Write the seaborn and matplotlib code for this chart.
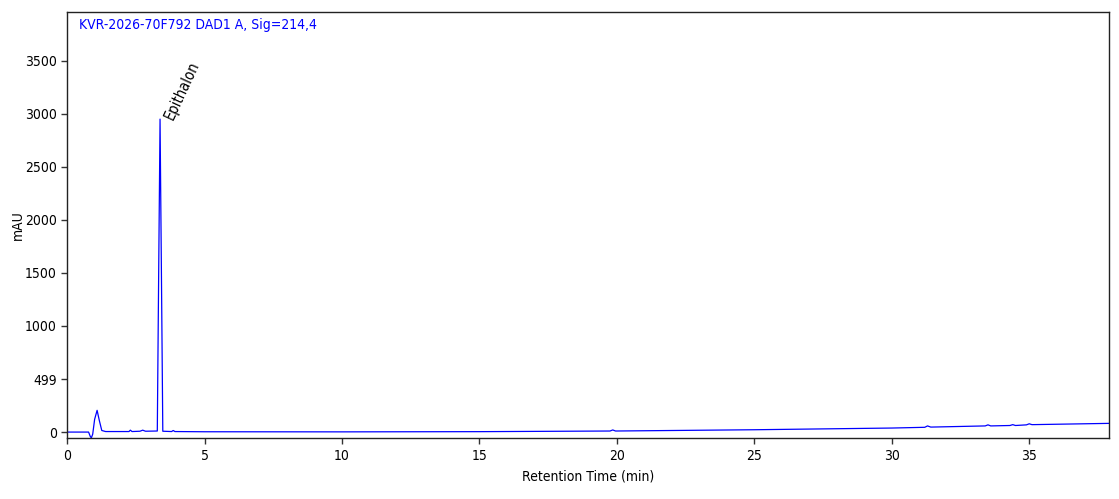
import matplotlib
matplotlib.use("Agg")
import matplotlib.pyplot as plt
import numpy as np
import pandas as pd
import seaborn as sns

# chromatogram (retention time in min, signal in mAU)
rt_min = [0.0, 0.78, 0.84, 0.88, 0.93, 1.0, 1.09, 1.17, 1.26, 1.4, 2.0, 2.25, 2.3, 2.36,
          2.65, 2.75, 2.85, 3.28, 3.33, 3.38, 3.43, 3.48, 3.8, 3.86, 3.92, 5.0, 10.0,
          15.0, 19.75, 19.85, 19.95, 25.0, 30.0, 31.2, 31.3, 31.42, 33.4, 33.5, 33.6,
          34.3, 34.4, 34.5, 34.9, 35.0, 35.1, 37.9]
signal_mau = [0, 0, -40, -55, -20, 120, 205, 110, 15, 5, 5, 5, 18, 5,
              8, 18, 8, 10, 1500, 2950, 1500, 8, 5, 15, 5, 3, 2,
              4, 10, 20, 10, 22, 38, 45, 58, 47, 58, 68, 58,
              62, 70, 62, 68, 78, 70, 82]

peak_name = "Epithalon"
peak_rt = 3.38
peak_height = 2950

title_text = "KVR-2026-70F792 DAD1 A, Sig=214,4"
x_ticks = [0, 5, 10, 15, 20, 25, 30, 35]
y_ticks = [0, 499, 1000, 1500, 2000, 2500, 3000, 3500]

df = pd.DataFrame({"rt": rt_min, "mau": signal_mau})

sns.set_style("white")
plt.rcParams["font.family"] = ["DejaVu Sans"]
plt.rcParams["font.stretch"] = "condensed"
plt.rcParams["text.color"] = "black"
plt.rcParams["axes.labelcolor"] = "black"
plt.rcParams["xtick.color"] = "black"
plt.rcParams["ytick.color"] = "black"

fig, ax = plt.subplots(figsize=(11.19, 4.99), dpi=100)
fig.subplots_adjust(left=0.06, right=0.991, top=0.976, bottom=0.122)

sns.lineplot(data=df, x="rt", y="mau", ax=ax, color="#0000ff", linewidth=0.9,
             estimator=None, sort=False)

ax.set_xlim(0, 37.9)
ax.set_ylim(-57, 3960)
ax.set_xticks(x_ticks)
ax.set_yticks(y_ticks)
ax.set_xticklabels([str(t) for t in x_ticks], fontsize=10)
ax.set_yticklabels([str(t) for t in y_ticks], fontsize=10)
ax.tick_params(direction="out", length=4, width=1, left=True, bottom=True,
               color="#333333")
ax.set_xlabel("Retention Time (min)", fontsize=10, labelpad=5)
ax.set_ylabel("mAU", fontsize=10)
ax.yaxis.set_label_coords(-0.041, 0.5)

for s in ax.spines.values():
    s.set_color("#222222")
    s.set_linewidth(1)

ax.text(0.011, 0.985, title_text, transform=ax.transAxes, color="#0000ff",
        fontsize=10, ha="left", va="top")
ax.text(peak_rt + 0.06, peak_height + 35, peak_name, rotation=65,
        rotation_mode="anchor", ha="left", va="top", fontsize=10.5)

fig.savefig("out.png", dpi=100)
